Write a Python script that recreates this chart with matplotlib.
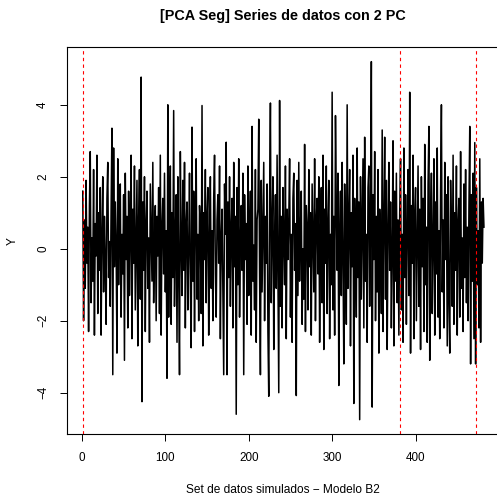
import matplotlib
matplotlib.use("Agg")
import matplotlib.pyplot as plt

# serie simulada, indices 1..482
y_vals = [
    1.6, -2.0, 0.8, -1.1, 1.9, -0.4, 0.6, -2.3, 1.2, 2.7, -1.5, 0.3, -0.9, 2.2, -2.4, 0.7, -0.2, 2.6, -1.8, 1.0,
    -0.6, 1.7, -2.4, 0.4, 2.0, -1.2, 0.9, -0.3, -2.1, 1.4, 2.4, -0.8, 0.2, -1.6, 1.1, 3.35, -3.5, 2.8, -0.5, 1.3,
    0.1, -2.9, 2.5, -1.0, 0.6, 1.8, -1.9, 0.4, -0.7, 1.5, -3.1, 2.1, -0.3, 0.9, -2.2, 1.6, -1.3, 0.5, 2.6, -2.5,
    1.1, -0.4, 2.3, -1.7, 0.2, 1.9, -2.7, 0.8, 2.2, -1.4, 4.77, -4.25, 1.3, -0.6, 2.0, -2.3, 0.7, 1.6, -1.1, 0.3,
    -2.6, 1.8, 0.4, -0.9, 2.4, -1.5, 0.1, 1.2, -2.0, 0.9, -0.2, 1.7, -1.8, 2.6, -2.4, 0.6, 1.4, -0.7, 2.1, -1.2,
    0.5, -3.6, 4.0, -1.9, 0.8, 2.3, -2.1, 1.0, -0.8, 3.84, -1.6, 0.3, 1.5, -2.6, 2.0, -0.5, -3.5, 2.7, 0.2, -1.3,
    1.9, -0.6, 2.4, -2.2, 0.7, 1.3, -1.7, 0.0, 2.1, -1.0, -2.75, 3.38, -0.9, 1.6, -2.3, 0.8, 2.5, -1.4, 0.4, -2.0,
    1.2, 0.6, -1.8, 3.98, -2.7, 1.0, -0.3, 2.2, -1.5, 0.9, 1.7, -2.4, 0.2, 2.0, -1.1, 0.5, -2.0, 1.4, 2.6, -0.7,
    -1.9, 0.8, 1.5, -0.4, 2.3, -2.5, 0.3, 1.1, -1.2, -3.5, 1.8, 0.4, 2.96, -3.5, 1.3, -0.8, 2.0, -1.6, 0.6, 1.4,
    -2.2, 2.4, -0.5, 0.9, -4.6, 1.7, -1.0, 2.5, -1.9, 0.2, 1.2, -0.6, 2.1, -3.5, 1.5, -0.3, 0.7, -2.1, 2.3, -1.3,
    0.4, 1.6, -2.4, 3.4, -0.9, 0.1, -1.7, 2.2, -2.6, 0.8, 1.1, 3.6, -0.7, -3.5, 1.9, -1.2, 0.5, 2.4, -2.0, 0.9,
    -0.4, 1.8, -2.3, -4.1, 1.3, 4.05, -1.5, 0.6, 2.0, -2.8, 0.3, 1.5, -1.1, 2.6, -0.8, -4.0, 4.12, -1.6, 0.9, -2.2,
    1.7, 0.2, -1.0, 2.3, -2.5, 1.1, -0.3, 0.8, 2.5, -1.9, 0.4, -2.6, 1.4, 2.1, -0.6, 0.7, -4.08, 1.9, -1.3, 2.4,
    -0.9, 0.5, 1.6, -2.1, 0.0, -1.4, 2.9, -2.3, 1.2, 0.6, -1.7, 2.2, -0.5, 1.0, -2.4, 1.8, 0.3, -1.2, 2.5, -2.0,
    0.8, 1.4, -0.7, 2.0, -2.6, 0.2, 1.7, -1.5, 2.6, -2.8, 1.1, -0.4, 2.3, -1.8, 0.6, 1.9, -2.5, 0.4, -1.0, 4.35,
    -1.7, 0.9, -2.4, 3.7, 1.2, -0.6, 2.1, -3.8, 0.5, 1.6, -1.3, 2.4, -0.2, -3.2, 1.8, 0.3, -2.1, 4.0, -1.1, 0.7,
    2.2, -2.7, 1.0, -0.5, 2.6, -4.3, 1.4, 0.1, -1.9, 2.8, -0.8, 1.3, -4.75, 2.0, -1.4, 0.6, 2.5, -2.2, 3.1, -0.9,
    0.4, -2.6, 1.7, 2.3, -1.6, 0.8, 5.2, -4.4, 1.5, -0.3, 2.7, -2.0, 0.9, -1.2, 2.2, -2.9, 1.1, 0.2, -1.8, 3.3,
    -2.3, 0.7, 3.1, -1.4, 1.9, -2.8, 0.5, 2.4, -0.6, 1.3, -2.2, 0.0, 3.0, -2.7, 1.6, -0.9, 2.1, -1.5, 0.8, -2.4,
    1.0, 2.5, -1.7, 0.4, -2.6, 2.8, -0.8, 1.5, -2.1, 0.6, 2.2, -1.3, 4.35, -2.9, 1.2, -0.4, 2.6, -2.5, 0.9, 1.7,
    -2.0, 0.3, 2.3, -1.6, 1.1, -2.8, 2.0, -0.5, 1.4, -2.3, 2.9, -1.0, 0.6, -2.6, 1.8, 3.4, -3.1, 0.7, 2.1, -1.8,
    0.2, 2.5, -2.4, 1.3, -0.7, 2.8, -1.9, 0.5, -2.5, 1.6, 4.0, -1.2, 0.8, -2.2, 2.4, -0.3, 1.5, -2.7, 2.0, -1.4,
    -2.9, 1.9, 0.4, -1.6, 2.6, -2.1, 1.0, -0.6, 2.3, -2.4, 0.7, 1.4, -1.9, 2.7, -1.1, 0.3, -2.3, 1.8, -0.8, 2.2,
    -1.5, 0.6, -2.0, 1.2, 3.4, -3.2, 1.5, -0.9, 2.1, -2.5, 2.95, -3.2, 1.7, -1.0, 0.5, -2.2, 2.5, -2.6, 1.3, -0.4,
    1.4, 0.6,
]
x_vals = list(range(1, len(y_vals) + 1))

# puntos de cambio detectados
cortes = [1, 381, 472]

x_ticks = [0, 100, 200, 300, 400]
y_ticks = [-4, -2, 0, 2, 4]

plt.rcParams["font.family"] = ["Liberation Sans", "DejaVu Sans"]

W, H = 497, 499
fig = plt.figure(figsize=(W / 100, H / 100), dpi=100)
left, right, top, bottom = 66.7, 500.0, 47.3, 434.0
ax = fig.add_axes([left / W, 1 - bottom / H, (right - left) / W, (bottom - top) / H])

ax.plot(x_vals, y_vals, color="black", lw=1.1)
for c in cortes:
    ax.axvline(c, color="red", lw=0.8, linestyle=(0, (3, 3)))

# rango estilo R (4% extra)
dx = (max(x_vals) - min(x_vals)) * 0.04
dy = (max(y_vals) - min(y_vals)) * 0.04
ax.set_xlim(min(x_vals) - dx, max(x_vals) + dx)
ax.set_ylim(min(y_vals) - dy, max(y_vals) + dy)

ax.set_xticks(x_ticks)
ax.set_yticks(y_ticks)
ax.tick_params(direction="out", length=5.2, width=0.7, labelsize=8.4, pad=7.5, colors="black")
for lbl in ax.get_yticklabels():
    lbl.set_rotation(90)
    lbl.set_va("center")
for sp in ax.spines.values():
    sp.set_linewidth(0.8)

ax.set_xlabel("Set de datos simulados \u2212 Modelo B2", fontsize=8.6)
ax.set_ylabel("Y", fontsize=8.6)
ax.xaxis.set_label_coords(0.5, -(490 - bottom) / (bottom - top))
ax.yaxis.set_label_coords(-(left - 13) / (right - left), 0.5)
ax.xaxis.label.set_va("center")
ax.yaxis.label.set_va("center")

ax.text(0.5, (bottom - 16) / (bottom - top), "[PCA Seg] Series de datos con 2 PC",
        transform=ax.transAxes, ha="center", va="center", fontsize=10.4, fontweight="bold")

fig.savefig("out.png", dpi=100)
